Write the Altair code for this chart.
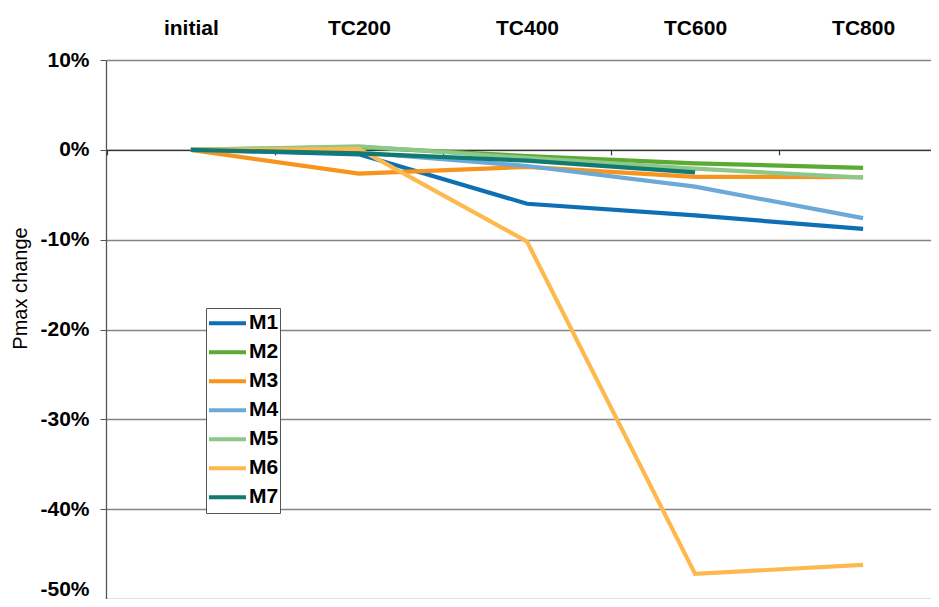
import altair as alt
import pandas as pd

categories = ["initial", "TC200", "TC400", "TC600", "TC800"]
series = ["M1", "M2", "M3", "M4", "M5", "M6", "M7"]
m1 = [0, -0.5, -6.0, -7.3, -8.8]
m2 = [0, 0.3, -0.7, -1.5, -2.0]
m3 = [0, -2.65, -1.9, -3.0, -3.05]
m4 = [0, -0.3, -1.8, -4.1, -7.6]
m5 = [0, 0.4, -0.9, -2.1, -3.1]
m6 = [0, 0.1, -10.2, -47.2, -46.2]
m7 = [0, -0.4, -1.2, -2.5, None]
colors = ["#0F6FB4", "#5BAA34", "#F7941E", "#6BAAD8", "#8DC88A", "#FDB94E", "#117A73"]
y_ticks = [10, 0, -10, -20, -30, -40, -50]

values = [m1, m2, m3, m4, m5, m6, m7]
rows = []
for s, vals in zip(series, values):
    for i, (c, v) in enumerate(zip(categories, vals)):
        if v is None:
            continue
        rows.append({"series": s, "category": c, "idx": i, "value": v})
df = pd.DataFrame(rows)

FONT = "Liberation Sans"
W, H = 825, 539
xscale = alt.Scale(domain=[-0.505, 4.404], nice=False, zero=False)
yscale = alt.Scale(domain=[-50, 10], nice=False, zero=False)
label_expr = "[" + ",".join("'" + c + "'" for c in categories) + "][datum.value]"
zero_offset = -(H - H * 10 / 60)

yaxis = alt.Axis(values=y_ticks, labelExpr="datum.value + '%'",
                 grid=True, gridColor="#858585", gridWidth=1.5,
                 domainColor="#555555", domainWidth=1.3,
                 tickColor="#555555", tickSize=6,
                 labelFont=FONT, labelFontSize=21, labelFontWeight="bold",
                 labelColor="black", labelPadding=11,
                 labelBaseline={"condition": {"test": "datum.value == -50",
                                              "value": "bottom"},
                                "value": "middle"},
                 title="Pmax change", titleFont=FONT, titleFontSize=20,
                 titleFontWeight="normal", titleColor="black",
                 titleAngle=270, titleX=-80, titleY=228,
                 titleAlign="center", titleBaseline="alphabetic")

axis_layer = alt.Chart(df).mark_line(opacity=0).encode(
    x=alt.X("idx:Q", scale=xscale,
            axis=alt.Axis(orient="bottom", offset=zero_offset,
                          values=[-0.5, 0.5, 1.5, 2.5, 3.5],
                          labels=False, grid=False, title=None,
                          domainColor="#333333", domainWidth=1.2,
                          tickColor="#333333", tickWidth=1.2, tickSize=5)),
    y=alt.Y("value:Q", scale=yscale, axis=yaxis),
    detail="series:N",
)

line_layer = alt.Chart(df).mark_line(strokeWidth=4.2).encode(
    x=alt.X("idx:Q", scale=xscale,
            axis=alt.Axis(orient="top", values=list(range(len(categories))),
                          labelExpr=label_expr, ticks=False, domain=False,
                          grid=False, title=None, labelFont=FONT,
                          labelFontSize=21, labelFontWeight="bold",
                          labelColor="black", labelPadding=22,
                          labelFlush=False, labelOverlap=False)),
    y=alt.Y("value:Q", scale=yscale, axis=yaxis),
    color=alt.Color("series:N", scale=alt.Scale(domain=series, range=colors),
                    legend=alt.Legend(orient="none", legendX=100, legendY=248,
                                      title=None, symbolType="stroke",
                                      symbolSize=1369, symbolStrokeWidth=4,
                                      labelFont=FONT, labelFontSize=21,
                                      labelFontWeight="bold", labelColor="black",
                                      labelOffset=1, padding=1, rowPadding=0,
                                      clipHeight=28.3,
                                      strokeColor="#555555", fillColor="white")),
    order=alt.Order("idx:Q"),
)

chart = alt.layer(axis_layer, line_layer).resolve_axis(x="independent").properties(
    width=W, height=H,
    autosize=alt.AutoSizeParams(type="none"),
    padding={"left": 98, "top": 52, "right": 0, "bottom": 0},
    background="white",
).configure_view(stroke=None)

chart.save("out.html", embed_options={"renderer": "svg", "actions": False})
